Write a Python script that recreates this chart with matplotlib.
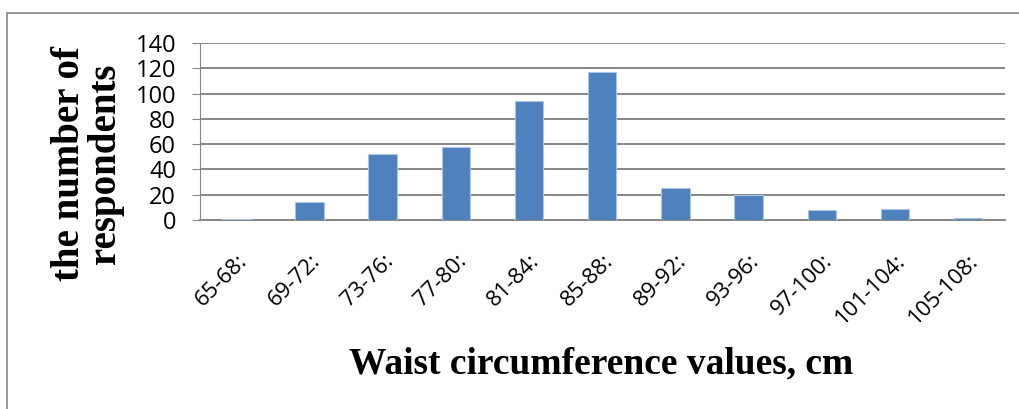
import numpy as np
import matplotlib
matplotlib.use('Agg')
import matplotlib.pyplot as plt
from matplotlib.patches import Rectangle

# waist circumference bins and number of respondents
bins = ['65-68:', '69-72:', '73-76:', '77-80:', '81-84:', '85-88:',
        '89-92:', '93-96:', '97-100:', '101-104:', '105-108:']
counts = [1, 14, 52, 58, 94, 117, 25, 20, 8, 9, 2]

fig = plt.figure(figsize=(10.19, 4.09), dpi=100)
ax = fig.add_axes([0.196, 0.462, 0.79, 0.433])

x = np.arange(len(bins))
ax.bar(x, counts, width=0.39, color='#4f81bd', edgecolor='#a9c4e4', linewidth=0.8, zorder=3)

ax.set_ylim(0, 140)
ax.set_xlim(-0.5, len(bins) - 0.5)
ax.set_yticks(range(0, 141, 20))
ax.yaxis.grid(True, color='#868686', linewidth=1.4, zorder=0)
ax.set_xticks(x)
ax.set_xticklabels(bins, rotation=45, ha='right', rotation_mode='anchor',
                   fontsize=16, family='Open Sans')
for lab in ax.get_yticklabels():
    lab.set_family('Open Sans')
    lab.set_fontsize(17)

for s in ['top', 'right']:
    ax.spines[s].set_visible(False)
ax.spines['left'].set_color('#868686')
ax.spines['bottom'].set_color('#868686')
ax.spines['bottom'].set_linewidth(1.4)
ax.tick_params(axis='y', length=6, color='#868686', pad=11)
ax.tick_params(axis='x', length=0, pad=22)

fig.text(0.086, 0.60, 'the number of\nrespondents', rotation=90, ha='center', va='center',
         family='Liberation Serif', fontweight='bold', fontsize=28, linespacing=0.95)
fig.text(0.59, 0.11, 'Waist circumference values, cm', ha='center', va='center',
         family='Liberation Serif', fontweight='bold', fontsize=27)

fig.patches.append(Rectangle((0.007, -0.05), 1.5, 1.018, transform=fig.transFigure,
                             fill=False, edgecolor='#868686', linewidth=1.2))

fig.savefig('out.png', dpi=100)
